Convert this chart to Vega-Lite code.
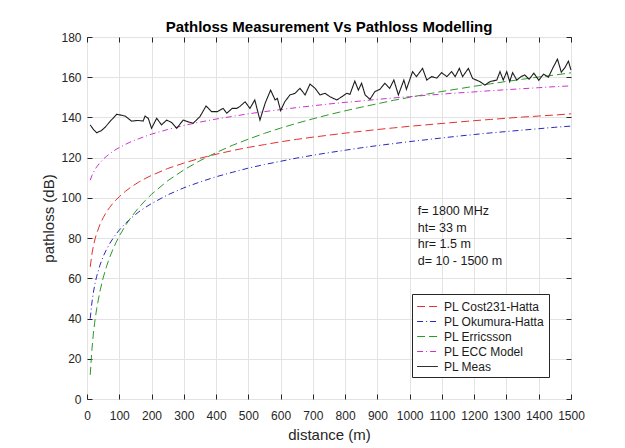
{
  "$schema": "https://vega.github.io/schema/vega-lite/v6.json",
  "width": 484,
  "height": 362,
  "autosize": {"type": "none"},
  "padding": {"left": 87, "top": 37, "right": 54, "bottom": 49},
  "background": "white",
  "title": {"text": "Pathloss Measurement Vs Pathloss Modelling", "font": "Liberation Sans", "fontSize": 15, "fontWeight": "bold", "color": "#000000", "offset": -4, "anchor": "middle"},
  "config": {
    "view": {"stroke": "#262626", "strokeWidth": 1},
    "axis": {"labelFont": "Liberation Sans", "titleFont": "Liberation Sans", "labelFontSize": 12, "titleFontSize": 15, "titleFontWeight": "normal", "labelColor": "#262626", "titleColor": "#262626", "gridColor": "#e3e3e3", "gridOpacity": 1, "tickColor": "#262626", "domain": false, "labelFlush": false, "labelOverlap": false, "format": "d"},
    "legend": {"labelFont": "Liberation Sans", "labelFontSize": 12, "labelColor": "#1a1a1a"}
  },
  "datasets": {
    "models": [
      {"d":10,"pl":65.7,"series":"PL Cost231-Hatta"},{"d":15,"pl":71.9,"series":"PL Cost231-Hatta"},{"d":20,"pl":76.2,"series":"PL Cost231-Hatta"},{"d":25,"pl":79.6,"series":"PL Cost231-Hatta"},{"d":30,"pl":82.4,"series":"PL Cost231-Hatta"},{"d":40,"pl":86.7,"series":"PL Cost231-Hatta"},{"d":50,"pl":90.1,"series":"PL Cost231-Hatta"},{"d":60,"pl":92.9,"series":"PL Cost231-Hatta"},{"d":70,"pl":95.2,"series":"PL Cost231-Hatta"},{"d":80,"pl":97.3,"series":"PL Cost231-Hatta"},{"d":90,"pl":99.0,"series":"PL Cost231-Hatta"},{"d":100,"pl":100.6,"series":"PL Cost231-Hatta"},{"d":120,"pl":103.4,"series":"PL Cost231-Hatta"},{"d":140,"pl":105.8,"series":"PL Cost231-Hatta"},{"d":160,"pl":107.8,"series":"PL Cost231-Hatta"},{"d":180,"pl":109.6,"series":"PL Cost231-Hatta"},{"d":200,"pl":111.2,"series":"PL Cost231-Hatta"},{"d":250,"pl":114.6,"series":"PL Cost231-Hatta"},{"d":300,"pl":117.3,"series":"PL Cost231-Hatta"},{"d":350,"pl":119.7,"series":"PL Cost231-Hatta"},{"d":400,"pl":121.7,"series":"PL Cost231-Hatta"},{"d":450,"pl":123.5,"series":"PL Cost231-Hatta"},{"d":500,"pl":125.1,"series":"PL Cost231-Hatta"},{"d":550,"pl":126.5,"series":"PL Cost231-Hatta"},{"d":600,"pl":127.9,"series":"PL Cost231-Hatta"},{"d":650,"pl":129.1,"series":"PL Cost231-Hatta"},{"d":700,"pl":130.2,"series":"PL Cost231-Hatta"},{"d":750,"pl":131.2,"series":"PL Cost231-Hatta"},{"d":800,"pl":132.2,"series":"PL Cost231-Hatta"},{"d":850,"pl":133.1,"series":"PL Cost231-Hatta"},{"d":900,"pl":134.0,"series":"PL Cost231-Hatta"},{"d":950,"pl":134.8,"series":"PL Cost231-Hatta"},{"d":1000,"pl":135.6,"series":"PL Cost231-Hatta"},{"d":1050,"pl":136.3,"series":"PL Cost231-Hatta"},{"d":1100,"pl":137.0,"series":"PL Cost231-Hatta"},{"d":1150,"pl":137.7,"series":"PL Cost231-Hatta"},{"d":1200,"pl":138.4,"series":"PL Cost231-Hatta"},{"d":1250,"pl":139.0,"series":"PL Cost231-Hatta"},{"d":1300,"pl":139.6,"series":"PL Cost231-Hatta"},{"d":1350,"pl":140.2,"series":"PL Cost231-Hatta"},{"d":1400,"pl":140.7,"series":"PL Cost231-Hatta"},{"d":1450,"pl":141.2,"series":"PL Cost231-Hatta"},{"d":1500,"pl":141.8,"series":"PL Cost231-Hatta"},
      {"d":10,"pl":40.0,"series":"PL Okumura-Hatta"},{"d":15,"pl":47.7,"series":"PL Okumura-Hatta"},{"d":20,"pl":53.2,"series":"PL Okumura-Hatta"},{"d":25,"pl":57.5,"series":"PL Okumura-Hatta"},{"d":30,"pl":61.0,"series":"PL Okumura-Hatta"},{"d":40,"pl":66.5,"series":"PL Okumura-Hatta"},{"d":50,"pl":70.8,"series":"PL Okumura-Hatta"},{"d":60,"pl":74.2,"series":"PL Okumura-Hatta"},{"d":70,"pl":77.2,"series":"PL Okumura-Hatta"},{"d":80,"pl":79.7,"series":"PL Okumura-Hatta"},{"d":90,"pl":82.0,"series":"PL Okumura-Hatta"},{"d":100,"pl":84.0,"series":"PL Okumura-Hatta"},{"d":120,"pl":87.5,"series":"PL Okumura-Hatta"},{"d":140,"pl":90.4,"series":"PL Okumura-Hatta"},{"d":160,"pl":93.0,"series":"PL Okumura-Hatta"},{"d":180,"pl":95.2,"series":"PL Okumura-Hatta"},{"d":200,"pl":97.2,"series":"PL Okumura-Hatta"},{"d":250,"pl":101.5,"series":"PL Okumura-Hatta"},{"d":300,"pl":105.0,"series":"PL Okumura-Hatta"},{"d":350,"pl":107.9,"series":"PL Okumura-Hatta"},{"d":400,"pl":110.5,"series":"PL Okumura-Hatta"},{"d":450,"pl":112.7,"series":"PL Okumura-Hatta"},{"d":500,"pl":114.8,"series":"PL Okumura-Hatta"},{"d":550,"pl":116.6,"series":"PL Okumura-Hatta"},{"d":600,"pl":118.2,"series":"PL Okumura-Hatta"},{"d":650,"pl":119.8,"series":"PL Okumura-Hatta"},{"d":700,"pl":121.2,"series":"PL Okumura-Hatta"},{"d":750,"pl":122.5,"series":"PL Okumura-Hatta"},{"d":800,"pl":123.7,"series":"PL Okumura-Hatta"},{"d":850,"pl":124.9,"series":"PL Okumura-Hatta"},{"d":900,"pl":126.0,"series":"PL Okumura-Hatta"},{"d":950,"pl":127.0,"series":"PL Okumura-Hatta"},{"d":1000,"pl":128.0,"series":"PL Okumura-Hatta"},{"d":1050,"pl":128.9,"series":"PL Okumura-Hatta"},{"d":1100,"pl":129.8,"series":"PL Okumura-Hatta"},{"d":1150,"pl":130.7,"series":"PL Okumura-Hatta"},{"d":1200,"pl":131.5,"series":"PL Okumura-Hatta"},{"d":1250,"pl":132.3,"series":"PL Okumura-Hatta"},{"d":1300,"pl":133.0,"series":"PL Okumura-Hatta"},{"d":1350,"pl":133.7,"series":"PL Okumura-Hatta"},{"d":1400,"pl":134.4,"series":"PL Okumura-Hatta"},{"d":1450,"pl":135.1,"series":"PL Okumura-Hatta"},{"d":1500,"pl":135.7,"series":"PL Okumura-Hatta"},
      {"d":10,"pl":12.0,"series":"PL Erricsson"},{"d":15,"pl":24.2,"series":"PL Erricsson"},{"d":20,"pl":32.8,"series":"PL Erricsson"},{"d":25,"pl":39.5,"series":"PL Erricsson"},{"d":30,"pl":44.9,"series":"PL Erricsson"},{"d":40,"pl":53.5,"series":"PL Erricsson"},{"d":50,"pl":60.2,"series":"PL Erricsson"},{"d":60,"pl":65.7,"series":"PL Erricsson"},{"d":70,"pl":70.3,"series":"PL Erricsson"},{"d":80,"pl":74.3,"series":"PL Erricsson"},{"d":90,"pl":77.8,"series":"PL Erricsson"},{"d":100,"pl":81.0,"series":"PL Erricsson"},{"d":120,"pl":86.5,"series":"PL Erricsson"},{"d":140,"pl":91.1,"series":"PL Erricsson"},{"d":160,"pl":95.1,"series":"PL Erricsson"},{"d":180,"pl":98.6,"series":"PL Erricsson"},{"d":200,"pl":101.8,"series":"PL Erricsson"},{"d":250,"pl":108.5,"series":"PL Erricsson"},{"d":300,"pl":113.9,"series":"PL Erricsson"},{"d":350,"pl":118.5,"series":"PL Erricsson"},{"d":400,"pl":122.5,"series":"PL Erricsson"},{"d":450,"pl":126.1,"series":"PL Erricsson"},{"d":500,"pl":129.2,"series":"PL Erricsson"},{"d":550,"pl":132.1,"series":"PL Erricsson"},{"d":600,"pl":134.7,"series":"PL Erricsson"},{"d":650,"pl":137.1,"series":"PL Erricsson"},{"d":700,"pl":139.3,"series":"PL Erricsson"},{"d":750,"pl":141.4,"series":"PL Erricsson"},{"d":800,"pl":143.3,"series":"PL Erricsson"},{"d":850,"pl":145.1,"series":"PL Erricsson"},{"d":900,"pl":146.8,"series":"PL Erricsson"},{"d":950,"pl":148.5,"series":"PL Erricsson"},{"d":1000,"pl":150.0,"series":"PL Erricsson"},{"d":1050,"pl":151.5,"series":"PL Erricsson"},{"d":1100,"pl":152.9,"series":"PL Erricsson"},{"d":1150,"pl":154.2,"series":"PL Erricsson"},{"d":1200,"pl":155.5,"series":"PL Erricsson"},{"d":1250,"pl":156.7,"series":"PL Erricsson"},{"d":1300,"pl":157.9,"series":"PL Erricsson"},{"d":1350,"pl":159.0,"series":"PL Erricsson"},{"d":1400,"pl":160.1,"series":"PL Erricsson"},{"d":1450,"pl":161.1,"series":"PL Erricsson"},{"d":1500,"pl":162.2,"series":"PL Erricsson"},
      {"d":10,"pl":108.8,"series":"PL ECC Model"},{"d":15,"pl":111.0,"series":"PL ECC Model"},{"d":20,"pl":112.7,"series":"PL ECC Model"},{"d":25,"pl":114.2,"series":"PL ECC Model"},{"d":30,"pl":115.4,"series":"PL ECC Model"},{"d":40,"pl":117.5,"series":"PL ECC Model"},{"d":50,"pl":119.2,"series":"PL ECC Model"},{"d":60,"pl":120.6,"series":"PL ECC Model"},{"d":70,"pl":121.9,"series":"PL ECC Model"},{"d":80,"pl":123.1,"series":"PL ECC Model"},{"d":90,"pl":124.1,"series":"PL ECC Model"},{"d":100,"pl":125.0,"series":"PL ECC Model"},{"d":120,"pl":126.7,"series":"PL ECC Model"},{"d":140,"pl":128.2,"series":"PL ECC Model"},{"d":160,"pl":129.4,"series":"PL ECC Model"},{"d":180,"pl":130.6,"series":"PL ECC Model"},{"d":200,"pl":131.7,"series":"PL ECC Model"},{"d":250,"pl":134.0,"series":"PL ECC Model"},{"d":300,"pl":136.0,"series":"PL ECC Model"},{"d":350,"pl":137.7,"series":"PL ECC Model"},{"d":400,"pl":139.2,"series":"PL ECC Model"},{"d":450,"pl":140.5,"series":"PL ECC Model"},{"d":500,"pl":141.8,"series":"PL ECC Model"},{"d":550,"pl":142.9,"series":"PL ECC Model"},{"d":600,"pl":143.9,"series":"PL ECC Model"},{"d":650,"pl":144.9,"series":"PL ECC Model"},{"d":700,"pl":145.8,"series":"PL ECC Model"},{"d":750,"pl":146.7,"series":"PL ECC Model"},{"d":800,"pl":147.5,"series":"PL ECC Model"},{"d":850,"pl":148.2,"series":"PL ECC Model"},{"d":900,"pl":149.0,"series":"PL ECC Model"},{"d":950,"pl":149.7,"series":"PL ECC Model"},{"d":1000,"pl":150.3,"series":"PL ECC Model"},{"d":1050,"pl":151.0,"series":"PL ECC Model"},{"d":1100,"pl":151.6,"series":"PL ECC Model"},{"d":1150,"pl":152.2,"series":"PL ECC Model"},{"d":1200,"pl":152.7,"series":"PL ECC Model"},{"d":1250,"pl":153.3,"series":"PL ECC Model"},{"d":1300,"pl":153.8,"series":"PL ECC Model"},{"d":1350,"pl":154.3,"series":"PL ECC Model"},{"d":1400,"pl":154.8,"series":"PL ECC Model"},{"d":1450,"pl":155.3,"series":"PL ECC Model"},{"d":1500,"pl":155.7,"series":"PL ECC Model"}
    ],
    "meas": [
      {"d":10,"pl":136.3},{"d":20,"pl":134.0},{"d":30,"pl":132.4},{"d":45,"pl":133.5},{"d":56,"pl":135.1},{"d":71,"pl":137.9},{"d":92,"pl":141.6},{"d":118,"pl":140.7},{"d":138,"pl":138.2},{"d":158,"pl":138.5},{"d":174,"pl":138.2},{"d":180,"pl":140.7},{"d":190,"pl":139.5},{"d":200,"pl":134.6},{"d":216,"pl":139.6},{"d":231,"pl":136.3},{"d":247,"pl":138.7},{"d":262,"pl":137.5},{"d":278,"pl":134.6},{"d":298,"pl":138.7},{"d":314,"pl":137.8},{"d":329,"pl":137.1},{"d":350,"pl":140.4},{"d":369,"pl":145.7},{"d":386,"pl":142.9},{"d":404,"pl":142.9},{"d":422,"pl":144.5},{"d":433,"pl":142.1},{"d":450,"pl":144.5},{"d":464,"pl":144.5},{"d":474,"pl":145.5},{"d":490,"pl":147.8},{"d":505,"pl":144.5},{"d":520,"pl":148.7},{"d":536,"pl":138.7},{"d":552,"pl":147.0},{"d":569,"pl":153.6},{"d":583,"pl":148.7},{"d":590,"pl":149.5},{"d":600,"pl":143.4},{"d":613,"pl":147.8},{"d":629,"pl":151.2},{"d":645,"pl":152.0},{"d":660,"pl":154.5},{"d":676,"pl":151.2},{"d":691,"pl":156.6},{"d":707,"pl":154.5},{"d":722,"pl":151.2},{"d":738,"pl":152.0},{"d":753,"pl":150.3},{"d":774,"pl":148.7},{"d":790,"pl":150.3},{"d":805,"pl":152.0},{"d":815,"pl":151.5},{"d":830,"pl":158.1},{"d":841,"pl":153.6},{"d":851,"pl":157.0},{"d":862,"pl":151.2},{"d":877,"pl":149.0},{"d":892,"pl":152.8},{"d":908,"pl":154.0},{"d":923,"pl":157.0},{"d":938,"pl":154.5},{"d":951,"pl":158.6},{"d":965,"pl":151.2},{"d":982,"pl":158.6},{"d":990,"pl":154.0},{"d":1009,"pl":162.8},{"d":1021,"pl":160.3},{"d":1040,"pl":164.4},{"d":1053,"pl":158.6},{"d":1068,"pl":160.3},{"d":1084,"pl":159.6},{"d":1099,"pl":162.3},{"d":1115,"pl":160.3},{"d":1130,"pl":162.8},{"d":1141,"pl":160.3},{"d":1154,"pl":164.4},{"d":1164,"pl":160.3},{"d":1182,"pl":164.4},{"d":1195,"pl":159.4},{"d":1218,"pl":157.8},{"d":1233,"pl":156.1},{"d":1249,"pl":157.8},{"d":1270,"pl":158.6},{"d":1280,"pl":162.8},{"d":1290,"pl":158.6},{"d":1301,"pl":162.8},{"d":1310,"pl":157.8},{"d":1319,"pl":162.3},{"d":1332,"pl":158.6},{"d":1345,"pl":160.3},{"d":1357,"pl":161.1},{"d":1370,"pl":159.0},{"d":1385,"pl":162.0},{"d":1400,"pl":158.5},{"d":1415,"pl":161.5},{"d":1430,"pl":160.0},{"d":1445,"pl":165.0},{"d":1458,"pl":169.0},{"d":1470,"pl":162.5},{"d":1482,"pl":165.0},{"d":1492,"pl":168.0},{"d":1500,"pl":163.5}
    ]
  },
  "encoding": {
    "color": {"field": "series", "type": "nominal", "title": null,
      "scale": {"domain": ["PL Cost231-Hatta", "PL Okumura-Hatta", "PL Erricsson", "PL ECC Model", "PL Meas"], "range": ["#e53030", "#2828c0", "#2a9a2a", "#cc33cc", "#1e1e1e"]},
      "legend": {"orient": "none", "legendX": 325, "legendY": 257, "strokeColor": "#262626", "fillColor": "white", "padding": 4, "rowPadding": 0, "symbolType": "M-1.3,0H1.3", "symbolSize": 256, "symbolStrokeWidth": 1, "symbolOffset": 3, "labelOffset": 8}},
    "strokeDash": {"field": "series", "type": "nominal", "title": null,
      "scale": {"domain": ["PL Cost231-Hatta", "PL Okumura-Hatta", "PL Erricsson", "PL ECC Model", "PL Meas"], "range": [[8, 4], [6, 3, 1, 3], [8, 4], [6, 3, 1, 3], [1, 0]]}}
  },
  "layer": [
    {
      "data": {"name": "models"},
      "mark": {"type": "line", "strokeWidth": 1},
      "encoding": {
        "x": {"field": "d", "type": "quantitative", "scale": {"domain": [0, 1500], "nice": false},
          "axis": {"orient": "bottom", "values": [0,100,200,300,400,500,600,700,800,900,1000,1100,1200,1300,1400,1500], "grid": true, "tickSize": -5, "labelPadding": 16, "title": "distance (m)", "titlePadding": 6}},
        "y": {"field": "pl", "type": "quantitative", "scale": {"domain": [0, 180], "nice": false},
          "axis": {"orient": "left", "values": [0,20,40,60,80,100,120,140,160,180], "grid": true, "tickSize": -5, "labelPadding": 11, "title": "pathloss (dB)", "titlePadding": 4}}
      }
    },
    {
      "data": {"name": "meas"},
      "mark": {"type": "line", "strokeWidth": 1.1},
      "encoding": {
        "x": {"field": "d", "type": "quantitative",
          "axis": {"orient": "top", "values": [0,100,200,300,400,500,600,700,800,900,1000,1100,1200,1300,1400,1500], "grid": false, "labels": false, "tickSize": -5, "title": null}},
        "y": {"field": "pl", "type": "quantitative",
          "axis": {"orient": "right", "values": [0,20,40,60,80,100,120,140,160,180], "grid": false, "labels": false, "tickSize": -5, "title": null}},
        "color": {"datum": "PL Meas"},
        "strokeDash": {"datum": "PL Meas"}
      }
    },
    {
      "data": {"values": [{}]},
      "mark": {"type": "text", "text": ["f= 1800 MHz", "ht= 33 m", "hr= 1.5 m", "d= 10 - 1500 m"], "align": "left", "baseline": "top", "font": "Liberation Sans", "fontSize": 12.5, "lineHeight": 16.7, "color": "#1a1a1a"},
      "encoding": {
        "x": {"datum": 1025, "type": "quantitative", "axis": null},
        "y": {"datum": 96.5, "type": "quantitative", "axis": null},
        "color": {"value": "#1a1a1a"},
        "strokeDash": {"value": [1, 0]}
      }
    }
  ],
  "resolve": {"axis": {"x": "independent", "y": "independent"}}
}
